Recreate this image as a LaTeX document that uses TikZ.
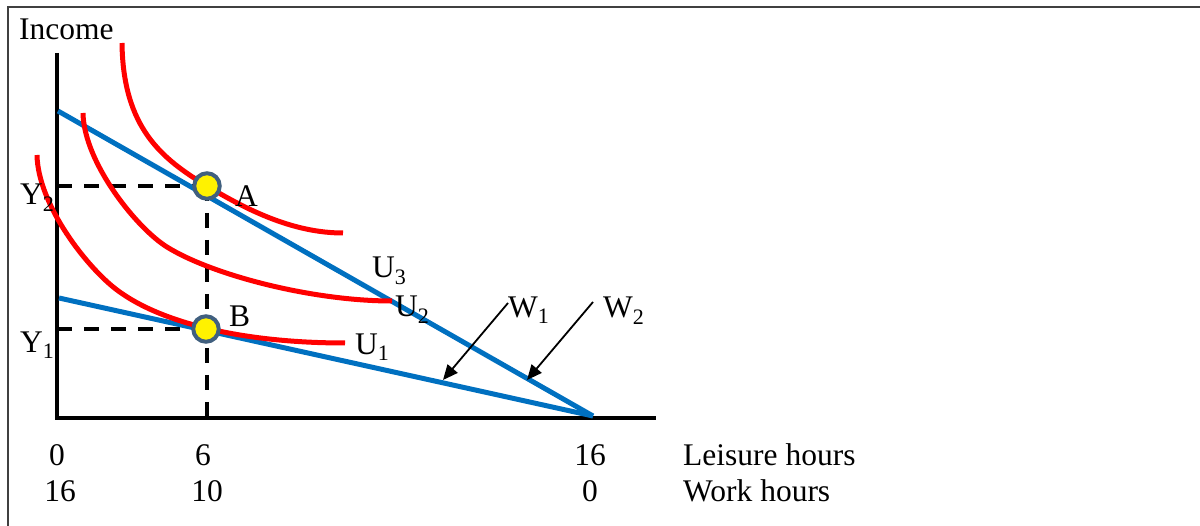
\documentclass[tikz,border=0pt]{standalone}
\usepackage{fontspec}
\setmainfont{Liberation Serif}
\usetikzlibrary{arrows.meta}
\definecolor{budgetblue}{HTML}{0070C0}
\definecolor{indiffred}{HTML}{FF0000}
\definecolor{ptborder}{HTML}{41607F}
\definecolor{framegray}{HTML}{404040}
\begin{document}
\begin{tikzpicture}[x=1pt,y=-1pt,
  lbl/.style={font=\fontsize{31.5}{36}\selectfont, inner sep=0pt, anchor=base west},
  numlbl/.style={font=\fontsize{31.5}{36}\selectfont, inner sep=0pt, anchor=base},
  axisline/.style={line width=3.3pt, black},
  budget/.style={line width=5pt, budgetblue},
  indiff/.style={line width=5pt, indiffred},
  guide/.style={line width=3.2pt, black, dash pattern=on 15pt off 12pt},
  pointer/.style={line width=1.8pt, black, -{Triangle[length=15pt,width=13pt]}},
  eqpoint/.style={circle, draw=ptborder, fill=yellow, line width=4pt, minimum size=25.5pt, inner sep=0pt},
  framestyle/.style={line width=1.3pt, framegray}]
\useasboundingbox (0,0) rectangle (1200,526);

% frame
\coordinate (fTL) at (8,7);
\coordinate (fTR) at (1200,7);
\coordinate (fBL) at (8,526);
\draw[framestyle] (fTR) -- (fTL) -- (fBL);

% axes
\coordinate (yTop) at (57,53);
\coordinate (origin) at (57,418);
\coordinate (xEnd) at (656,418);
\draw[axisline] (yTop) -- (origin) -- (xEnd);

% key coordinates
\coordinate (Apt) at (207,186);
\coordinate (Bpt) at (206,329);
\coordinate (Y2start) at (57,186);
\coordinate (Y1start) at (57,329);
\coordinate (Afoot) at (207,418);

% dashed guides
\draw[guide] (Y2start) -- (Apt);
\draw[guide] (Y1start) -- (Bpt);
\draw[guide] (Apt) -- (Afoot);

% budget lines
\coordinate (W2top) at (58,111);
\coordinate (W1top) at (59,298);
\coordinate (corner) at (593,416);
\draw[budget] (W2top) -- (corner);
\draw[budget] (W1top) -- (corner);

% indifference curves
\draw[indiff] (122,43) .. controls (123,128) and (162,159) .. (207,186)
              .. controls (247,210) and (293,233) .. (343,233);
\draw[indiff] (83,113) .. controls (84,163) and (137,228.4) .. (167,247)
              .. controls (212,275) and (312,301) .. (392,301);
\draw[indiff] (37,155) .. controls (38,205) and (87,267.5) .. (117,290)
              .. controls (162,323.75) and (245,343) .. (345,343);

% equilibrium points
\node[eqpoint] (A) at (Apt) {};
\node[eqpoint] (B) at (Bpt) {};

% labels
\node[lbl] (income) at (19,40) {Income};
\node[lbl] (Y2) at (20,205) {Y\textsubscript{2}};
\node[lbl] (Y1) at (20,353) {Y\textsubscript{1}};
\node[lbl] (Alab) at (235,207) {A};
\node[lbl] (Blab) at (229,327) {B};
\node[lbl] (U1) at (355,355) {U\textsubscript{1}};
\node[lbl] (U2) at (395,317) {U\textsubscript{2}};
\node[lbl] (U3) at (372,278) {U\textsubscript{3}};
\node[lbl] (W1) at (508,318) {W\textsubscript{1}};
\node[lbl] (W2) at (603,318) {W\textsubscript{2}};

% pointers
\coordinate (W1from) at (508,303);
\coordinate (W1to) at (443,380);
\coordinate (W2from) at (593,302);
\coordinate (W2to) at (527,380);
\draw[pointer] (W1from) -- (W1to);
\draw[pointer] (W2from) -- (W2to);

% bottom scale
\node[numlbl] (l0) at (57,465) {0};
\node[numlbl] (l6) at (203,465) {6};
\node[numlbl] (l16) at (590,465) {16};
\node[lbl] (leis) at (683,465) {Leisure hours};
\node[numlbl] (w16) at (60,501) {16};
\node[numlbl] (w10) at (207,501) {10};
\node[numlbl] (w0) at (590,501) {0};
\node[lbl] (work) at (683,501) {Work hours};
\end{tikzpicture}
\end{document}
